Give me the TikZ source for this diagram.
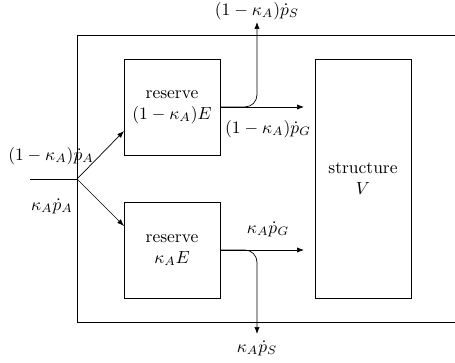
\documentclass[tikz,border=0pt]{standalone}
\usetikzlibrary{arrows.meta,calc}
\begin{document}
\begin{tikzpicture}[x=0.5714pt,y=-0.5714pt,
  box/.style={draw,line width=0.4pt,minimum width=54.86pt,inner sep=0pt,align=center},
  flow/.style={-{Latex[length=4pt,width=3pt]},line width=0.4pt},
  plain/.style={line width=0.4pt},
  lbl/.style={inner sep=0pt}]
\useasboundingbox (0,0) rectangle (455,362);
% outer box (open to the right)
\draw[plain] (456,35) -- (77,35) -- (77,322) -- (456,322);
% boxes
\node[box,minimum height=54.86pt] (topres) at (172,107) {reserve\\$(1-\kappa_A)E$};
\node[box,minimum height=54.86pt] (botres) at (172,250) {reserve\\$\kappa_A E$};
\node[box,minimum height=136.6pt] (struct) at (363,178.5) {structure\\$V$};
% coordinates
\coordinate (in) at (30,179);
\coordinate (split) at (77,179);
\coordinate (ta) at (124,131);
\coordinate (ba) at (124,226);
\coordinate (tg) at (304,107);
\coordinate (bg) at (304,250);
\coordinate (ts) at (257,22);
\coordinate (bs) at (257,334);
% connectors
\draw[plain] (in) -- (split);
\draw[flow] (split) -- (ta);
\draw[flow] (split) -- (ba);
\draw[flow] (topres.east) -- (tg);
\draw[flow] (botres.east) -- (bg);
\draw[flow,rounded corners=7pt] (topres.east) -| (ts);
\draw[flow,rounded corners=7pt] (botres.east) -| (bs);
% labels
\node[lbl] (lpa1) at (51,156) {$(1-\kappa_A)\dot p_A$};
\node[lbl] (lpa2) at (52,206) {$\kappa_A\dot p_A$};
\node[lbl] (lps1) at (257,11) {$(1-\kappa_A)\dot p_S$};
\node[lbl] (lpg1) at (268,129) {$(1-\kappa_A)\dot p_G$};
\node[lbl] (lpg2) at (268,229) {$\kappa_A\dot p_G$};
\node[lbl] (lps2) at (257,348) {$\kappa_A\dot p_S$};
\end{tikzpicture}
\end{document}
